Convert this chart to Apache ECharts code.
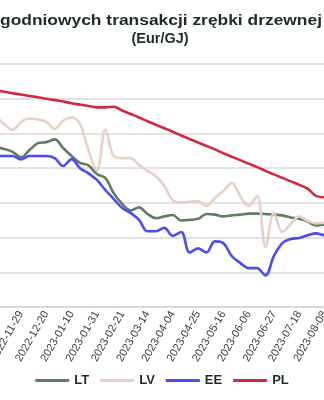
<!DOCTYPE html>
<html>
<head>
<meta charset="utf-8">
<script src="https://cdn.jsdelivr.net/npm/echarts@6/dist/echarts.min.js"></script>
<style>html,body{margin:0;padding:0;background:#fff}#c{width:324px;height:400px}</style>
</head>
<body>
<div id="c"></div>
<script>
const titleLine1 = 'godniowych transakcji zrębki drzewnej';
const titleLine2 = '(Eur/GJ)';
const categories = ['2022-11-01','2022-11-08','2022-11-15','2022-11-22','2022-11-29','2022-12-06','2022-12-13','2022-12-20','2022-12-27',
'2023-01-03','2023-01-10','2023-01-17','2023-01-24','2023-01-31','2023-02-07','2023-02-14','2023-02-21','2023-02-28',
'2023-03-07','2023-03-14','2023-03-21','2023-03-28','2023-04-04','2023-04-11','2023-04-18','2023-04-25',
'2023-05-02','2023-05-09','2023-05-16','2023-05-23','2023-05-30','2023-06-06','2023-06-13','2023-06-20','2023-06-27',
'2023-07-04','2023-07-11','2023-07-18','2023-07-25','2023-08-01','2023-08-08','2023-08-15','2023-08-22'];
const LT = [6.64,6.61,6.55,6.47,6.31,6.52,6.72,6.75,6.83,6.58,6.35,6.15,6.08,5.83,5.72,5.28,4.97,4.78,4.87,4.68,4.56,4.61,4.65,4.49,4.51,4.54,4.68,4.66,4.61,4.64,4.66,4.69,4.69,4.68,4.66,4.64,4.58,4.54,4.46,4.35,4.38,4.39,4.39];
const LV = [7.59,7.47,7.27,7.10,7.33,7.43,7.40,7.33,7.13,7.36,7.46,7.27,6.52,5.92,7.11,6.35,6.29,6.29,6.09,5.92,5.77,5.49,5.08,5.01,5.03,5.05,4.91,5.14,5.34,5.57,5.20,4.91,5.20,3.73,4.71,4.16,4.39,4.61,4.48,4.41,4.43,4.45,4.45];
const EE = [6.35,6.35,6.35,6.35,6.25,6.35,6.35,6.35,6.29,6.06,6.26,6.00,5.85,5.66,5.37,5.11,4.85,4.71,4.51,4.18,4.18,4.28,4.05,4.16,3.57,3.69,3.57,3.89,3.84,3.47,3.27,3.12,3.12,2.91,3.47,3.84,3.96,3.99,4.07,4.12,4.07,4.07,4.07];
const PL = [8.29,8.24,8.20,8.16,8.12,8.08,8.04,8.00,7.96,7.92,7.87,7.83,7.79,7.75,7.75,7.77,7.66,7.56,7.46,7.35,7.25,7.15,7.05,6.94,6.84,6.74,6.64,6.54,6.43,6.33,6.23,6.13,6.03,5.92,5.82,5.72,5.62,5.52,5.41,5.20,5.16,5.16,5.16];
const seriesNames = ['LT','LV','EE','PL'];
const colors = ['#5e7d63','#e8cfc7','#4b4cf2','#d1293d'];

const chart = echarts.init(document.getElementById('c'), null, {renderer:'canvas'});
const font = 'Liberation Sans, Arial, sans-serif';
const data = [LT, LV, EE, PL];
chart.setOption({
  animation:false,
  backgroundColor:'#ffffff',
  color: colors,
  graphic:[
    {type:'text', x:161, y:20.5, scaleX:1.16, style:{text:titleLine1, x:0, y:0, align:'center', verticalAlign:'middle',
      font:'bold 15px Liberation Sans, Arial, sans-serif', fill:'#1e2b26'}},
    {type:'text', x:160, y:38.5, style:{text:titleLine2, x:0, y:0, align:'center', verticalAlign:'middle',
      font:'bold 14.5px Liberation Sans, Arial, sans-serif', fill:'#1e2b26'}}
  ],
  legend:{
    data:seriesNames, bottom:8, left:'center', icon:'rect', itemWidth:34, itemHeight:3, itemGap:11,
    textStyle:{fontFamily:font,fontSize:13,fontWeight:'bold',color:'#1e2b26'}
  },
  grid:{left:-12.72, top:64, width:354.06, height:243, containLabel:false, outerBoundsMode:'none'},
  xAxis:{
    type:'category', data:categories, boundaryGap:false,
    axisLine:{lineStyle:{color:'#d4d4d4',width:1.5}},
    axisTick:{show:false},
    axisLabel:{
      interval:function(i){return i>=4 && (i-4)%3===0;},
      rotate:60, margin:5, fontFamily:font, fontSize:11, color:'#3c3c3c'
    }
  },
  yAxis:{
    type:'value', min:2, max:9, interval:1,
    axisLabel:{show:false}, axisLine:{show:false}, axisTick:{show:false},
    splitLine:{lineStyle:{color:'#d9d9d9',width:1.5}}
  },
  series: seriesNames.map((n,k)=>({
    name:n, type:'line', data:data[k], smooth:0.35, symbol:'none',
    lineStyle:{width:2.6,color:colors[k]}, z:2+k
  }))
});
</script>
</body>
</html>
